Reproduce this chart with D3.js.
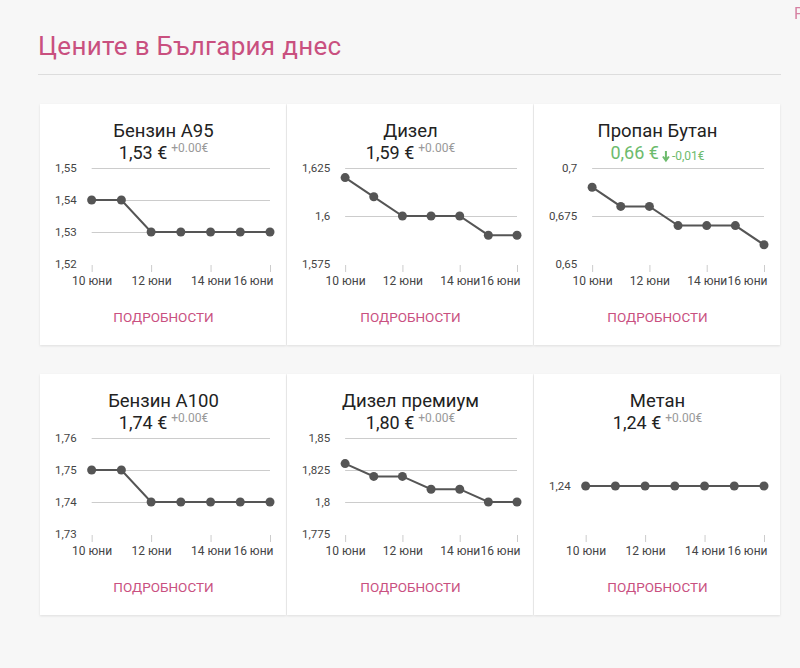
<!DOCTYPE html>
<html>
<head>
<meta charset="utf-8">
<script src="https://cdn.jsdelivr.net/npm/d3@7"></script>
<style>
  html, body { margin: 0; padding: 0; background: #f7f7f7; }
  svg { display: block; font-family: Roboto, "Noto Sans", sans-serif; }
</style>
</head>
<body>
<svg width="800" height="668"></svg>
<script>
var days = ['10 юни', '11 юни', '12 юни', '13 юни', '14 юни', '15 юни', '16 юни'];
var shownDays = ['10 юни', '12 юни', '14 юни', '16 юни'];

var fuels = ['Бензин А95', 'Дизел', 'Пропан Бутан', 'Бензин А100', 'Дизел премиум', 'Метан'];
var prices = ['1,53 €', '1,59 €', '0,66 €', '1,74 €', '1,80 €', '1,24 €'];
var changes = ['+0.00€', '+0.00€', '-0,01€', '+0.00€', '+0.00€', '+0.00€'];

var a95 = [1.54, 1.54, 1.53, 1.53, 1.53, 1.53, 1.53];
var diesel = [1.62, 1.61, 1.60, 1.60, 1.60, 1.59, 1.59];
var lpg = [0.69, 0.68, 0.68, 0.67, 0.67, 0.67, 0.66];
var a100 = [1.75, 1.75, 1.74, 1.74, 1.74, 1.74, 1.74];
var dieselPremium = [1.83, 1.82, 1.82, 1.81, 1.81, 1.80, 1.80];
var methane = [1.24, 1.24, 1.24, 1.24, 1.24, 1.24, 1.24];
var series = [a95, diesel, lpg, a100, dieselPremium, methane];

var ticksA95 = [1.52, 1.53, 1.54, 1.55];
var ticksDiesel = [1.575, 1.6, 1.625];
var ticksLpg = [0.65, 0.675, 0.7];
var ticksA100 = [1.73, 1.74, 1.75, 1.76];
var ticksPremium = [1.775, 1.8, 1.825, 1.85];
var ticksMethane = [1.24];
var yTicks = [ticksA95, ticksDiesel, ticksLpg, ticksA100, ticksPremium, ticksMethane];
var yDomains = [[1.52, 1.55], [1.575, 1.625], [0.65, 0.7], [1.73, 1.76], [1.775, 1.85], [1.23, 1.25]];

var PINK = '#c9507f', GREEN = '#6dbb6d', DARK = '#555';
var cardW = 247, cardH = 241;
var cardX = [40, 287, 534], cardY = [104, 374];

var svg = d3.select('svg');

svg.append('rect').attr('width', 800).attr('height', 668).attr('fill', '#f7f7f7');

var defs = svg.append('defs');
var f = defs.append('filter').attr('id', 'shadow').attr('x', '-5%').attr('y', '-5%').attr('width', '110%').attr('height', '110%');
f.append('feDropShadow').attr('dx', 0).attr('dy', 1).attr('stdDeviation', 1.2)
  .attr('flood-color', '#000').attr('flood-opacity', 0.10);

svg.append('text')
  .attr('x', 38).attr('y', 55)
  .attr('font-size', 26)
  .attr('letter-spacing', 0.3)
  .attr('fill', PINK)
  .text('Цените в България днес');

svg.append('line')
  .attr('x1', 38).attr('x2', 781).attr('y1', 74.5).attr('y2', 74.5)
  .attr('stroke', '#dddddd');

// cut-off element in the top right corner
svg.append('text').attr('x', 794).attr('y', 19).attr('font-size', 16).attr('fill', PINK).attr('opacity', 0.7).text('Р');

function drawCard(i) {
  var x0 = cardX[i % 3], y0 = cardY[Math.floor(i / 3)];
  var g = svg.append('g').attr('transform', 'translate(' + x0 + ',' + y0 + ')');
  var cx = cardW / 2;

  g.append('rect')
    .attr('width', cardW - 1).attr('height', cardH)
    .attr('fill', '#fff')
    .attr('filter', 'url(#shadow)');

  g.append('text')
    .attr('x', cx).attr('y', 33)
    .attr('text-anchor', 'middle')
    .attr('font-size', 18.5)
    .attr('fill', '#222')
    .text(fuels[i]);

  // price + change, centred as one group
  var down = changes[i].charAt(0) === '-';
  var pg = g.append('g');
  var pt = pg.append('text')
    .attr('y', 55)
    .attr('font-size', 18)
    .attr('fill', down ? GREEN : '#222')
    .text(prices[i]);
  var pw = pt.node().getComputedTextLength();
  var ax = pw + 4;
  if (down) {
    // down arrow icon
    pg.append('path')
      .attr('d', 'M' + (ax + 3) + ',47V55M' + ax + ',52.5L' + (ax + 3) + ',56.5L' + (ax + 6) + ',52.5')
      .attr('fill', 'none')
      .attr('stroke', GREEN)
      .attr('stroke-width', 2);
    ax += 9;
  }
  var ct = pg.append('text')
    .attr('x', ax).attr('y', down ? 56 : 48)
    .attr('font-size', 12)
    .attr('fill', down ? GREEN : '#999')
    .text(changes[i]);
  var total = ax + ct.node().getComputedTextLength();
  pg.attr('transform', 'translate(' + (cx - total / 2) + ',0)');

  // chart
  var ticks = yTicks[i];
  var fmt = function(v) { return String(+v.toFixed(3)).replace('.', ','); };
  var labW = 0;
  var tmp = g.append('g');
  ticks.forEach(function(t) {
    var tt = tmp.append('text').attr('font-size', 11.5).text(fmt(t));
    labW = Math.max(labW, tt.node().getComputedTextLength());
  });
  tmp.remove();

  var left = 15 + labW + 15, right = cardW - 17;
  var top = 64, bottom = 160;

  var x = d3.scalePoint().domain(days).range([left, right]);
  var y = d3.scaleLinear().domain(yDomains[i]).range([bottom, top]);

  // gridlines (not for the lowest tick, nor for a single-value chart)
  if (ticks.length > 1) {
    g.append('g').selectAll('line')
      .data(ticks.filter(function(t) { return t !== yDomains[i][0]; }))
      .enter().append('line')
      .attr('x1', left).attr('x2', right)
      .attr('y1', function(d) { return Math.round(y(d)) + 0.5; })
      .attr('y2', function(d) { return Math.round(y(d)) + 0.5; })
      .attr('stroke', '#cccccc');
  }

  g.append('g').selectAll('text')
    .data(ticks)
    .enter().append('text')
    .attr('x', left - 15)
    .attr('y', function(d) { return y(d); })
    .attr('dy', '0.35em')
    .attr('text-anchor', 'end')
    .attr('font-size', 11.5)
    .attr('fill', '#444')
    .text(fmt);

  // x axis: only tick marks and labels
  var xa = g.append('g').attr('transform', 'translate(0,' + (bottom + 1) + ')')
    .call(d3.axisBottom(x).tickValues(shownDays).tickSize(7).tickPadding(4));
  xa.select('.domain').remove();
  xa.selectAll('.tick line').attr('stroke', '#cccccc');
  xa.selectAll('.tick text').attr('font-size', 12).attr('fill', '#444').attr('font-family', 'Roboto, sans-serif');
  // last label kept inside the chart area
  xa.selectAll('.tick text').filter(function(d) { return d === days[days.length - 1]; })
    .attr('text-anchor', 'end').attr('x', 3);

  var line = d3.line().x(function(d, k) { return x(days[k]); }).y(function(d) { return y(d); });
  g.append('path')
    .datum(series[i])
    .attr('d', line)
    .attr('fill', 'none')
    .attr('stroke', DARK)
    .attr('stroke-width', 2);

  g.append('g').selectAll('circle')
    .data(series[i])
    .enter().append('circle')
    .attr('cx', function(d, k) { return x(days[k]); })
    .attr('cy', function(d) { return y(d); })
    .attr('r', 4.5)
    .attr('fill', DARK);

  g.append('text')
    .attr('x', cx).attr('y', 218)
    .attr('text-anchor', 'middle')
    .attr('font-size', 13.5)
    .attr('fill', PINK)
    .text('ПОДРОБНОСТИ');
}

for (var i = 0; i < fuels.length; i++) drawCard(i);
</script>
</body>
</html>
